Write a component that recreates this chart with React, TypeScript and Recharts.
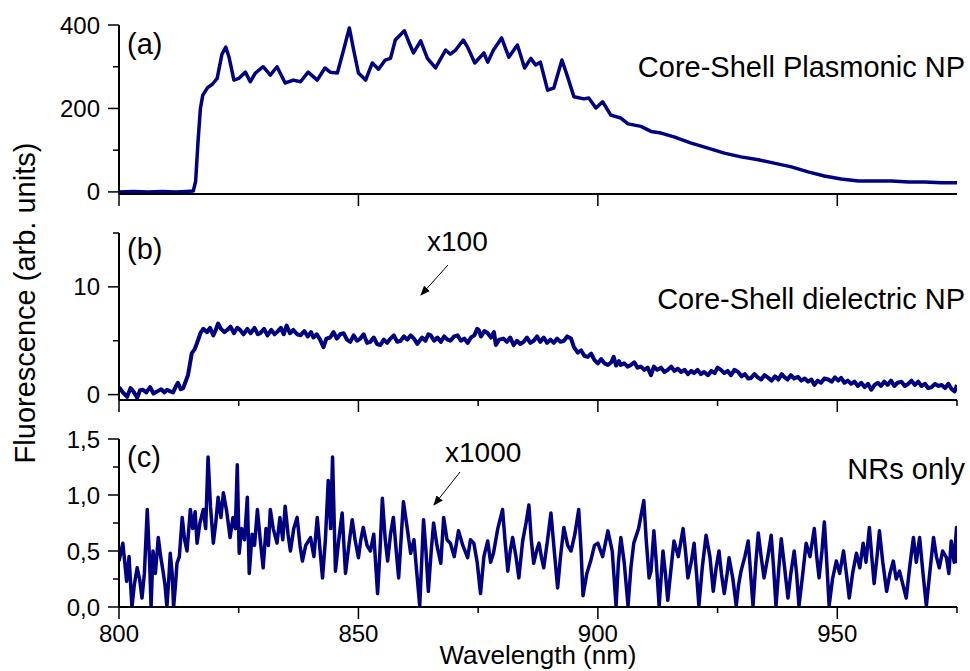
import React from 'react';
import { LineChart, Line, XAxis, YAxis } from 'recharts';

const NAVY = '#000080';
const FONT = '"Liberation Sans", Arial, sans-serif';

// panel (a): core-shell plasmonic NP
const waveA = [800, 803, 806, 809, 812, 814, 815.5, 816, 816.5, 817, 817.5, 818.5, 819.5, 820.5, 821.5, 822.3, 823, 824, 825, 826.4, 827.4, 828.5, 830.1, 831.6, 833, 834.7, 836.4, 837.9, 839.5, 841.4, 843, 844.1, 845.6, 846.9, 848.1, 849, 850, 851.5, 852.9, 854.2, 855.6, 856.7, 857.7, 859.6, 860.5, 861.5, 863, 864.4, 866.1, 868.2, 869.2, 870.3, 871.9, 872.8, 874.3, 876.2, 877, 878.2, 879.9, 881.4, 883.2, 884.7, 886, 887, 888, 889.5, 890.8, 892.5, 893.7, 895, 897.1, 898.1, 899.6, 901, 902.7, 904.8, 906.3, 909, 911.1, 913.2, 915.9, 919.5, 923, 926.4, 929.9, 933.5, 936.8, 940.4, 943.9, 947.3, 950.8, 954.4, 957.7, 961.3, 964.9, 968.2, 971.8, 975];
const fluoA = [0, 1, 0, 1, 0, 1, 2, 25, 120, 200, 232, 250, 258, 272, 330, 347, 322, 268, 272, 287, 264, 285, 300, 280, 300, 261, 268, 264, 287, 268, 297, 287, 285, 340, 393, 340, 285, 268, 309, 294, 316, 320, 364, 386, 360, 333, 362, 320, 297, 340, 330, 340, 364, 347, 309, 333, 311, 340, 369, 323, 352, 297, 320, 304, 311, 244, 249, 316, 275, 228, 223, 225, 201, 216, 184, 177, 163, 157, 145, 141, 132, 117, 105, 93, 84, 77, 69, 60, 48, 38, 31, 26, 26, 26, 24, 24, 22, 22];

// panel (b): core-shell dielectric NP (x100)
const waveB = [800, 800.8, 801.7, 802.4, 803, 803.8, 804.4, 805, 805.7, 806.5, 807.2, 808, 808.8, 809.5, 810, 810.7, 811.3, 811.8, 812.3, 812.9, 813.4, 813.9, 814.4, 814.8, 815.2, 815.8, 816.3, 816.7, 817, 817.6, 818.4, 819, 819.7, 820.2, 820.7, 821.3, 822, 822.6, 823.3, 824, 824.7, 825.3, 826, 826.8, 827.5, 828.3, 829, 829.5, 830.3, 831, 831.8, 832.5, 833, 833.8, 834.4, 835, 835.7, 836.4, 837.2, 837.9, 838.7, 839.4, 840.1, 840.6, 841.3, 842, 842.7, 843.3, 844.1, 844.8, 845.5, 846.2, 846.9, 847.6, 848.3, 849, 849.7, 850.4, 851.1, 851.8, 852.5, 853.2, 853.9, 854.6, 855.3, 856, 856.7, 857.4, 858.1, 858.8, 859.5, 860.2, 860.9, 861.6, 862.3, 862.6, 863.3, 864, 864.6, 865.1, 865.8, 866.5, 867.2, 867.9, 868.6, 869.2, 870, 870.7, 871.4, 872.1, 872.8, 873.5, 874.2, 874.8, 875.1, 875.6, 876.3, 877, 877.7, 878.3, 878.7, 879.4, 880.3, 881, 881.7, 882.4, 883.1, 883.8, 884.5, 885.2, 885.9, 886.6, 887.3, 888, 888.7, 889.4, 890.1, 890.8, 891.5, 892.2, 892.9, 893.6, 894.4, 895, 895.8, 896.5, 897.2, 897.9, 898.6, 899.3, 900, 900.7, 901.4, 902.1, 902.8, 903.3, 903.8, 904.4, 904.8, 905.5, 906.2, 906.9, 907.6, 908.3, 909, 909.7, 910.4, 911.1, 911.7, 912.4, 913.2, 913.9, 914.6, 915.3, 916, 916.7, 917.4, 918.1, 918.8, 919.5, 920.1, 920.8, 921.5, 922.2, 923, 923.7, 924.4, 925, 925.7, 926.4, 927.1, 927.8, 928.5, 929.3, 930, 930.7, 931.4, 932, 932.7, 933.4, 934.1, 934.8, 935.6, 936.3, 937, 937.7, 938.4, 938.9, 939.6, 940.3, 941, 941.8, 942.5, 943.2, 943.9, 944.6, 945.2, 945.9, 946.6, 947.3, 948.1, 948.8, 949.5, 950.2, 950.8, 951.5, 952.2, 952.9, 953.6, 954.3, 955, 955.7, 956.4, 957.1, 957.8, 958.5, 959.1, 959.8, 960.5, 961.2, 961.9, 962.6, 963.4, 964.1, 964.8, 965.5, 966.2, 966.9, 967.6, 968.3, 969, 969.7, 970.4, 971.1, 971.8, 972.5, 973.2, 973.9, 974.5, 975];
const fluoB = [0.7, 0.2, -0.2, 0.6, 0.3, -0.3, 0.4, 0.45, 0.2, 0.7, 0.1, 0.3, 0.5, 0.2, 0.45, 0.3, 0.2, 0.7, 1.1, 0.5, 0.6, 1.2, 1.8, 2.8, 3.85, 4.2, 4.8, 5.3, 5.7, 6.1, 5.8, 6.2, 5.5, 6.0, 6.6, 6.1, 5.8, 6.0, 6.3, 5.7, 6.2, 6.0, 5.6, 6.1, 5.7, 6.2, 5.6, 5.7, 6.1, 5.5, 6.0, 5.6, 5.8, 6.2, 5.6, 6.4, 5.7, 6.0, 5.6, 5.5, 5.9, 5.4, 5.8, 5.3, 5.6, 5.1, 4.4, 5.2, 5.3, 5.8, 5.2, 5.6, 5.7, 5.1, 4.9, 5.5, 5.0, 5.2, 5.6, 4.8, 4.9, 5.3, 4.7, 4.6, 5.1, 4.8, 5.2, 5.5, 4.9, 5.0, 5.4, 5.1, 5.5, 5.2, 4.7, 4.9, 5.3, 5.0, 5.6, 5.5, 5.0, 5.3, 4.9, 5.4, 5.1, 5.0, 5.4, 5.5, 5.0, 5.2, 4.8, 5.3, 5.5, 6.1, 6.0, 5.4, 5.9, 5.7, 5.3, 5.8, 4.6, 5.1, 5.2, 4.9, 5.3, 4.6, 5.0, 4.7, 4.9, 5.3, 4.8, 5.0, 5.4, 4.9, 5.3, 4.8, 5.1, 4.8, 5.2, 4.9, 5.0, 5.4, 5.2, 4.4, 3.9, 4.1, 3.6, 3.5, 3.8, 3.2, 2.9, 3.3, 2.9, 2.75, 3.0, 3.5, 2.7, 3.1, 2.75, 2.9, 2.6, 2.75, 3.0, 2.5, 2.6, 2.3, 2.5, 1.8, 2.6, 2.3, 2.5, 2.1, 2.3, 2.6, 2.2, 2.4, 2.1, 2.3, 1.9, 2.2, 2.0, 2.3, 1.9, 2.1, 1.8, 2.2, 2.0, 2.5, 2.3, 2.0, 2.2, 1.8, 2.3, 2.1, 1.7, 1.9, 1.5, 1.55, 1.9, 1.6, 1.4, 1.8, 1.55, 1.3, 1.7, 1.4, 1.9, 1.65, 1.4, 1.8, 1.5, 1.65, 1.3, 1.5, 1.2, 1.4, 0.9, 1.3, 1.1, 1.5, 1.4, 1.2, 1.6, 1.3, 1.55, 1.1, 1.3, 1.0, 1.2, 0.8, 1.1, 0.7, 1.0, 0.45, 0.9, 1.1, 0.8, 1.2, 0.9, 1.3, 0.8, 1.1, 1.2, 0.8, 1.0, 1.3, 0.9, 1.2, 0.8, 1.0, 0.6, 0.7, 1.0, 0.8, 0.9, 0.6, 1.0, 0.5, 0.3, 0.9];

// panel (c): NRs only (x1000)
const waveC = [800, 800.8, 801.6, 802.1, 802.7, 803.2, 803.8, 804.3, 804.8, 805.3, 805.9, 806.4, 806.7, 807.1, 807.6, 808.2, 808.7, 809.2, 809.6, 810, 810.4, 810.7, 811.1, 811.4, 811.8, 812.1, 812.6, 813.2, 813.7, 814.2, 814.9, 815.4, 815.9, 816.3, 816.9, 817.6, 818.1, 818.6, 819.1, 819.7, 820.2, 820.7, 821.3, 821.8, 822.5, 823.2, 823.8, 824.3, 824.7, 825.1, 825.6, 826.2, 826.8, 827.2, 827.8, 828.3, 828.9, 829.5, 830.1, 830.7, 831.2, 831.6, 832.2, 833, 833.6, 834.2, 834.7, 835.3, 835.8, 836.5, 837.2, 837.8, 838.3, 839, 840, 840.7, 841.4, 842, 842.5, 843.1, 843.7, 844.2, 844.6, 845.2, 845.9, 846.6, 847.3, 848, 848.7, 849.3, 850, 850.5, 851, 851.8, 852.5, 853.2, 854, 854.5, 855, 855.6, 856.1, 856.7, 857.3, 857.9, 858.4, 858.9, 859.4, 860.2, 860.9, 861.6, 862.2, 862.8, 863.6, 864.1, 864.6, 865.2, 865.7, 866.4, 867.2, 867.8, 868.5, 869.2, 870, 870.9, 871.8, 872.8, 873.4, 874.1, 874.8, 875.5, 876.2, 877, 877.6, 878.2, 879.1, 880.1, 880.6, 881.2, 881.7, 882.2, 882.9, 883.5, 884.3, 885, 885.6, 886.1, 886.6, 887.2, 887.7, 888.2, 888.7, 889.5, 890.2, 890.9, 891.6, 892.2, 892.9, 893.7, 894.4, 895.2, 896, 896.5, 896.9, 897.7, 898.5, 899.3, 900, 901, 902.1, 903, 903.8, 904.3, 904.8, 905.5, 906.3, 906.9, 907.5, 908.5, 909.6, 910.1, 910.7, 911.1, 911.7, 912.2, 912.8, 913.6, 914.1, 914.6, 915.3, 915.9, 916.8, 917.8, 918.3, 918.8, 919.5, 920.1, 920.6, 921.1, 921.8, 922.6, 923.4, 924.1, 924.7, 925.3, 925.8, 926.4, 927, 927.4, 928.2, 928.9, 929.4, 929.9, 930.7, 931.4, 931.9, 932.4, 933, 933.5, 934.1, 934.7, 935.5, 936.2, 936.7, 937.2, 937.8, 938.3, 939, 939.7, 940.3, 941, 941.5, 942, 942.8, 943.5, 944.3, 945.2, 945.7, 946.2, 946.8, 947.3, 947.8, 948.3, 949, 949.8, 950.5, 951.3, 951.9, 952.5, 953.2, 954, 954.7, 955.4, 956, 956.7, 957.2, 957.7, 958.3, 958.8, 959.5, 960.3, 961, 961.7, 962.3, 963, 963.7, 964.4, 965.1, 965.9, 966.5, 967.2, 967.9, 968.6, 969.3, 970.1, 970.7, 971.3, 972, 972.8, 973.3, 973.8, 974.4, 974.9, 975];
const fluoC = [0.41, 0.57, 0.23, 0.45, 0.0, 0.2, 0.35, 0.25, 0.08, 0.3, 0.87, 0.4, 0.0, 0.5, 0.3, 0.62, 0.45, 0.32, 0.2, 0.0, 0.25, 0.48, 0.3, 0.0, 0.2, 0.39, 0.45, 0.8, 0.6, 0.5, 0.87, 0.7, 0.85, 0.57, 0.75, 0.87, 0.7, 1.34, 0.9, 0.57, 0.75, 0.98, 0.8, 1.02, 0.85, 0.62, 0.8, 0.7, 1.27, 0.48, 0.7, 0.6, 0.98, 0.3, 0.65, 0.55, 0.87, 0.6, 0.35, 0.7, 0.55, 0.87, 0.7, 0.57, 0.8, 0.6, 0.9, 0.65, 0.5, 0.7, 0.8, 0.55, 0.41, 0.55, 0.62, 0.45, 0.8, 0.5, 0.26, 0.6, 1.13, 0.7, 1.34, 0.32, 0.6, 0.84, 0.3, 0.55, 0.78, 0.6, 0.44, 0.6, 0.71, 0.55, 0.5, 0.65, 0.12, 0.5, 0.97, 0.6, 0.41, 0.65, 0.8, 0.5, 0.26, 0.6, 0.94, 0.7, 0.48, 0.6, 0.3, 0.01, 0.78, 0.5, 0.14, 0.5, 0.75, 0.55, 0.39, 0.8, 0.6, 0.57, 0.45, 0.68, 0.55, 0.44, 0.6, 0.57, 0.4, 0.12, 0.45, 0.59, 0.4, 0.48, 0.7, 0.87, 0.6, 0.32, 0.5, 0.62, 0.45, 0.26, 0.59, 0.75, 0.91, 0.6, 0.39, 0.5, 0.57, 0.45, 0.35, 0.6, 0.84, 0.5, 0.17, 0.45, 0.71, 0.55, 0.5, 0.65, 0.87, 0.5, 0.1, 0.3, 0.41, 0.55, 0.57, 0.45, 0.68, 0.5, 0.01, 0.4, 0.62, 0.4, 0.01, 0.35, 0.57, 0.7, 0.95, 0.6, 0.26, 0.32, 0.68, 0.4, 0.01, 0.5, 0.3, 0.06, 0.35, 0.59, 0.45, 0.7, 0.5, 0.26, 0.4, 0.57, 0.3, 0.01, 0.35, 0.64, 0.45, 0.14, 0.35, 0.5, 0.3, 0.12, 0.3, 0.44, 0.25, 0.01, 0.2, 0.32, 0.45, 0.59, 0.3, 0.01, 0.4, 0.66, 0.45, 0.26, 0.45, 0.64, 0.35, 0.01, 0.35, 0.61, 0.35, 0.08, 0.3, 0.5, 0.3, 0.01, 0.3, 0.57, 0.45, 0.7, 0.45, 0.26, 0.5, 0.76, 0.4, 0.01, 0.25, 0.41, 0.3, 0.5, 0.3, 0.08, 0.3, 0.48, 0.35, 0.57, 0.4, 0.71, 0.45, 0.21, 0.45, 0.68, 0.4, 0.14, 0.3, 0.41, 0.25, 0.32, 0.2, 0.08, 0.35, 0.62, 0.4, 0.62, 0.3, 0.01, 0.3, 0.62, 0.45, 0.35, 0.5, 0.44, 0.3, 0.59, 0.4, 0.71, 0.39];

const xTicksA = [800, 850, 900, 950];
const xTicksBC = [800, 825, 850, 875, 900, 925, 950, 975];
const xMajor = [800, 850, 900, 950];

const yTicksA = [0, 100, 200, 300, 400];
const yMajorA = [0, 200, 400];
const yTicksB = [0, 5, 10, 15];
const yMajorB = [0, 10];
const yTicksC = [0, 0.25, 0.5, 0.75, 1, 1.25, 1.5];
const yMajorC = [0, 0.5, 1, 1.5];

const dataA = waveA.map((w, i) => ({ w, v: fluoA[i] }));
const dataB = waveB.map((w, i) => ({ w, v: fluoB[i] }));
const dataC = waveC.map((w, i) => ({ w, v: fluoC[i] }));

const commaFmt = (v: number) => v.toFixed(1).replace('.', ',');

const makeXTick = (showLabels: boolean) => (props: any) => {
  const { x, y, payload } = props;
  const major = xMajor.includes(payload.value);
  return (
    <g>
      <line x1={x} x2={x} y1={y} y2={y + (major ? 12 : 6)} stroke="#000" strokeWidth={1.5} />
      {showLabels && major && (
        <text x={x} y={y + 35} textAnchor="middle" fontSize={24} fontFamily={FONT} fill="#000">
          {payload.value}
        </text>
      )}
    </g>
  );
};

const makeYTick = (majors: number[], fmt: (v: number) => string) => (props: any) => {
  const { x, y, payload } = props;
  const major = majors.includes(payload.value);
  return (
    <g>
      <line x1={x - (major ? 11 : 6)} x2={x} y1={y} y2={y} stroke="#000" strokeWidth={1.5} />
      {major && (
        <text x={x - 19} y={y + 8.5} textAnchor="end" fontSize={24} fontFamily={FONT} fill="#000">
          {fmt(payload.value)}
        </text>
      )}
    </g>
  );
};

interface PanelProps {
  top: number;
  height: number;
  marginTop: number;
  axisHeight: number;
  data: { w: number; v: number }[];
  xTicks: number[];
  xLabels: boolean;
  yDomain: [number, number];
  yTicks: number[];
  yMajor: number[];
  yFmt: (v: number) => string;
  strokeWidth: number;
}

const Panel: React.FC<PanelProps> = (p) => (
  <div style={{ position: 'absolute', left: 0, top: p.top }}>
    <LineChart width={970} height={p.height} data={p.data} margin={{ top: p.marginTop, right: 13, bottom: 0, left: 0 }}>
      <XAxis
        dataKey="w"
        type="number"
        domain={[800, 975]}
        allowDataOverflow
        ticks={p.xTicks}
        interval={0}
        height={p.axisHeight}
        tickSize={0}
        tickMargin={0}
        tickLine={false}
        axisLine={{ stroke: '#000', strokeWidth: 2 }}
        tick={makeXTick(p.xLabels)}
      />
      <YAxis
        type="number"
        domain={p.yDomain}
        allowDataOverflow
        ticks={p.yTicks}
        interval={0}
        width={119}
        tickSize={0}
        tickMargin={0}
        tickLine={false}
        axisLine={{ stroke: '#000', strokeWidth: 2 }}
        tick={makeYTick(p.yMajor, p.yFmt)}
      />
      <Line
        dataKey="v"
        type="linear"
        stroke={NAVY}
        strokeWidth={p.strokeWidth}
        strokeLinejoin="round"
        dot={false}
        isAnimationActive={false}
      />
    </LineChart>
  </div>
);

const txt = { fontFamily: FONT, fill: '#000' };

export default function App() {
  return (
    <div style={{ position: 'absolute', left: 0, top: 0, width: 970, height: 671, background: '#fff', overflow: 'hidden' }}>
      <Panel top={0} height={215} marginTop={25} axisHeight={21} data={dataA} xTicks={xTicksA} xLabels={false}
        yDomain={[-5, 400]} yTicks={yTicksA} yMajor={yMajorA} yFmt={(v) => String(v)} strokeWidth={3.5} />
      <Panel top={215} height={200} marginTop={18} axisHeight={15} data={dataB} xTicks={xTicksBC} xLabels={false}
        yDomain={[-0.5, 15]} yTicks={yTicksB} yMajor={yMajorB} yFmt={(v) => String(v)} strokeWidth={4} />
      <Panel top={415} height={256} marginTop={24} axisHeight={64} data={dataC} xTicks={xTicksBC} xLabels={true}
        yDomain={[0, 1.5]} yTicks={yTicksC} yMajor={yMajorC} yFmt={commaFmt} strokeWidth={3.5} />
      <svg width={970} height={671} style={{ position: 'absolute', left: 0, top: 0, pointerEvents: 'none' }}>
        <defs>
          <marker id="arr" markerWidth="10" markerHeight="8" refX="9" refY="4" orient="auto" markerUnits="userSpaceOnUse">
            <path d="M0,0 L10,4 L0,8 Z" fill="#000" />
          </marker>
        </defs>
        <text x={127} y={54} fontSize={29} {...txt}>(a)</text>
        <text x={127} y={259} fontSize={29} {...txt}>(b)</text>
        <text x={127} y={467} fontSize={29} {...txt}>(c)</text>
        <text x={965} y={77} fontSize={29} textAnchor="end" {...txt}>Core-Shell Plasmonic NP</text>
        <text x={965} y={309} fontSize={29} textAnchor="end" {...txt}>Core-Shell dielectric NP</text>
        <text x={965} y={479} fontSize={29} textAnchor="end" {...txt}>NRs only</text>
        <text x={427} y={251} fontSize={28} {...txt}>x100</text>
        <line x1={448} y1={265} x2={421} y2={295} stroke="#000" strokeWidth={1} markerEnd="url(#arr)" />
        <text x={445} y={462} fontSize={28} {...txt}>x1000</text>
        <line x1={460} y1={472} x2={434} y2={505} stroke="#000" strokeWidth={1} markerEnd="url(#arr)" />
        <text transform="translate(35,303) rotate(-90)" fontSize={29} textAnchor="middle" {...txt}>Fluorescence (arb. units)</text>
        <text x={538} y={664} fontSize={26} textAnchor="middle" {...txt}>Wavelength (nm)</text>
      </svg>
    </div>
  );
}
